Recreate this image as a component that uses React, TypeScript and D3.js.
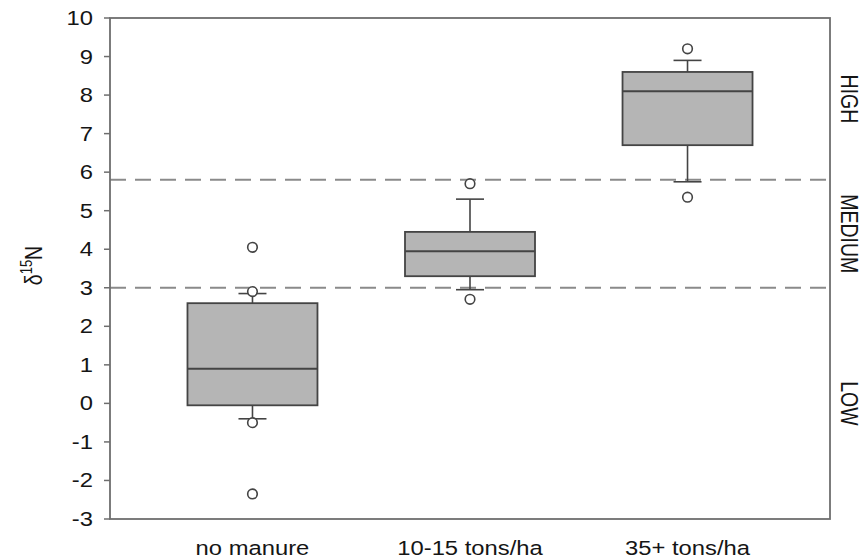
import React from "react";
import * as d3 from "d3";

const categories = ["no manure", "10-15 tons/ha", "35+ tons/ha"];
const q1 = [-0.05, 3.3, 6.7];
const medians = [0.9, 3.95, 8.1];
const q3 = [2.6, 4.45, 8.6];
const whiskerLow = [-0.4, 2.95, 5.75];
const whiskerHigh = [2.85, 5.3, 8.9];
const outliers = [
  [4.05, 2.9, -0.5, -2.35],
  [5.7, 2.7],
  [9.2, 5.35],
];
const yTicks = [-3, -2, -1, 0, 1, 2, 3, 4, 5, 6, 7, 8, 9, 10];
const thresholds = [3.0, 5.8];
const zones = [
  { label: "LOW", from: -3, to: 3.0 },
  { label: "MEDIUM", from: 3.0, to: 5.8 },
  { label: "HIGH", from: 5.8, to: 10 },
];

const W = 863;
const H = 559;
const left = 110;
const right = 830;
const top = 18;
const bottom = 519;
const font = "'Liberation Sans', Arial, sans-serif";
const sx = 1.22;

export default function App() {
  const y = d3.scaleLinear().domain([-3, 10]).range([bottom, top]);
  const x = d3.scalePoint<string>().domain(categories).range([left, right]).padding(0.655);
  const boxW = 130;
  const capW = 28;
  const axisColor = "#6e6e6e";
  const boxStroke = "#444";
  const textColor = "#151515";
  return (
    <svg width={W} height={H} style={{ position: "absolute", left: 0, top: 0, background: "#fff" }}>
      {thresholds.map((t) => (
        <line key={t} x1={left} x2={right} y1={y(t)} y2={y(t)} stroke="#8a8a8a" strokeWidth={2} strokeDasharray="16,9" />
      ))}
      {categories.map((c, i) => {
        const cx = x(c)!;
        return (
          <g key={c}>
            <line x1={cx} x2={cx} y1={y(q3[i])} y2={y(whiskerHigh[i])} stroke={boxStroke} strokeWidth={1.6} />
            <line x1={cx} x2={cx} y1={y(q1[i])} y2={y(whiskerLow[i])} stroke={boxStroke} strokeWidth={1.6} />
            <line x1={cx - capW / 2} x2={cx + capW / 2} y1={y(whiskerHigh[i])} y2={y(whiskerHigh[i])} stroke={boxStroke} strokeWidth={1.6} />
            <line x1={cx - capW / 2} x2={cx + capW / 2} y1={y(whiskerLow[i])} y2={y(whiskerLow[i])} stroke={boxStroke} strokeWidth={1.6} />
            <rect x={cx - boxW / 2} y={y(q3[i])} width={boxW} height={y(q1[i]) - y(q3[i])} fill="#b5b5b5" stroke={boxStroke} strokeWidth={1.8} />
            <line x1={cx - boxW / 2} x2={cx + boxW / 2} y1={y(medians[i])} y2={y(medians[i])} stroke={boxStroke} strokeWidth={2} />
            {outliers[i].map((o, j) => (
              <circle key={j} cx={cx} cy={y(o)} r={4.8} fill="#fff" stroke={boxStroke} strokeWidth={1.6} />
            ))}
          </g>
        );
      })}
      <rect x={left} y={top} width={right - left} height={bottom - top} fill="none" stroke={axisColor} strokeWidth={1.8} />
      {yTicks.map((t) => (
        <g key={t}>
          <line x1={left - 6} x2={left} y1={y(t)} y2={y(t)} stroke={axisColor} strokeWidth={1.5} />
          <text
            transform={`translate(${left - 17},${y(t)}) scale(${sx},1)`}
            dy="0.36em"
            textAnchor="end"
            fontFamily={font}
            fontSize={19.5}
            fill={textColor}
          >
            {t}
          </text>
        </g>
      ))}
      <text
        transform={`translate(42,${(top + bottom) / 2 - 3}) scale(${sx},1) rotate(-90)`}
        textAnchor="middle"
        fontFamily={font}
        fontSize={19.5}
        fill={textColor}
      >
        δ<tspan dy={-8} fontSize={13}>15</tspan>
        <tspan dy={8}>N</tspan>
      </text>
      {categories.map((c) => (
        <text
          key={c}
          transform={`translate(${x(c)!},555) scale(${sx},1)`}
          textAnchor="middle"
          fontFamily={font}
          fontSize={19.5}
          fill={textColor}
        >
          {c}
        </text>
      ))}
      {zones.map((z) => (
        <text
          key={z.label}
          transform={`translate(841,${(y(z.from) + y(z.to)) / 2}) scale(${sx},1) rotate(90)`}
          textAnchor="middle"
          fontFamily={font}
          fontSize={19.5}
          fill={textColor}
        >
          {z.label}
        </text>
      ))}
    </svg>
  );
}
